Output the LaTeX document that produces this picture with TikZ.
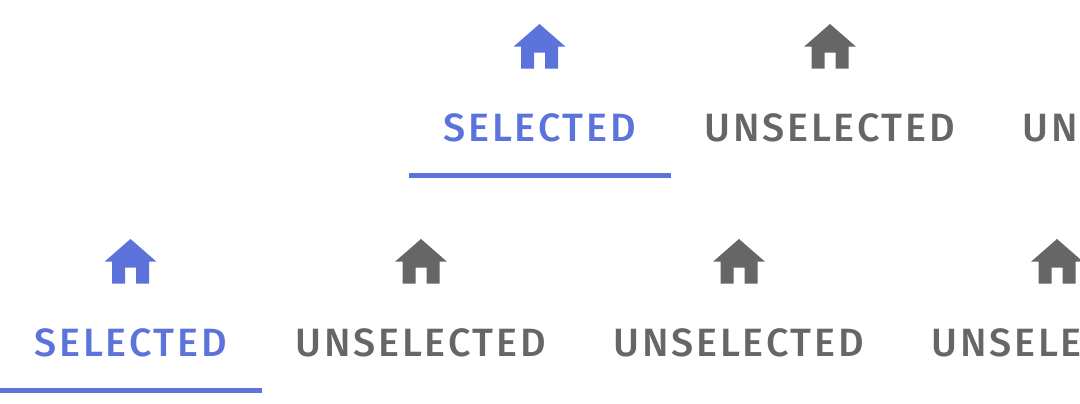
\documentclass[tikz,border=0pt]{standalone}
\usepackage{fontspec}
\newfontfamily\tabfont[LetterSpace=7]{Fira Sans Medium}
\definecolor{tabblue}{HTML}{5C73DB}
\definecolor{tabgray}{HTML}{666666}
\tikzset{
  tablabel/.style={anchor=base,inner sep=0pt,font=\tabfont\fontsize{39.5}{39.5}\selectfont},
  selbar/.style={fill=tabblue,draw=none},
  pics/homeicon/.style={code={
    \fill[#1,even odd rule] (0,-22.7)--(26,0)--(18.5,0)--(18.5,22)--(5.5,22)--(5.5,6)--(-5.5,6)--(-5.5,22)--(-18.5,22)--(-18.5,0)--(-26,0)--cycle;
  }}
}
\begin{document}
\begin{tikzpicture}[x=1pt,y=-1pt]
\useasboundingbox (0,0) rectangle (1080,404);
\clip (0,0) rectangle (1080,404);
\pic at (539.5,46.7) {homeicon=tabblue};
\pic at (830,46.7) {homeicon=tabgray};
\pic at (130.5,261.7) {homeicon=tabblue};
\pic at (421,261.7) {homeicon=tabgray};
\pic at (739,261.7) {homeicon=tabgray};
\pic at (1057,261.7) {homeicon=tabgray};
\node[tablabel,text=tabblue] (a1) at (539.7,141) {SELECTED};
\node[tablabel,text=tabgray] (a2) at (829.7,141) {UNSELECTED};
\node[tablabel,text=tabgray] (a3) at (1147.7,141) {UNSELECTED};
\node[tablabel,text=tabblue] (b1) at (130.7,356) {SELECTED};
\node[tablabel,text=tabgray] (b2) at (420.7,356) {UNSELECTED};
\node[tablabel,text=tabgray] (b3) at (738.7,356) {UNSELECTED};
\node[tablabel,text=tabgray] (b4) at (1056.7,356) {UNSELECTED};
\fill[selbar] (409,173) rectangle (671,177.7);
\fill[selbar] (0,388) rectangle (262,392.7);
\end{tikzpicture}
\end{document}
